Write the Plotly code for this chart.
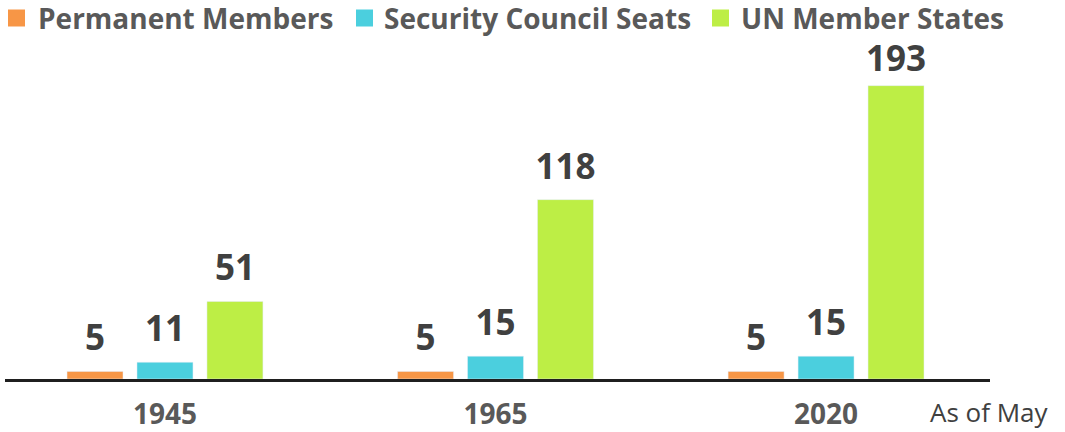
import plotly.graph_objects as go

years = ["1945", "1965", "2020"]
permanent = [5, 5, 5]
seats = [11, 15, 15]
states = [51, 118, 193]
series_names = ["Permanent Members", "Security Council Seats", "UN Member States"]
colors = ["#F79646", "#4BCFDE", "#BDEE45"]

# layout geometry (page body margin removed via post_script, so div px = screen px)
W, H = 1065, 432
L, R, T, B = 5, 75, 75, 53
PW, PH = W - L - R, H - T - B
YMAX = 200
GAP, GROUPGAP = 0.365, 0.2


def px_x(x):
    return (x - L) / PW


def px_y(y):
    return (H - B - y) / PH


fig = go.Figure()
series_vals = [permanent, seats, states]
for name, vals, col in zip(series_names, series_vals, colors):
    fig.add_trace(go.Bar(
        x=years, y=vals, name=name, marker_color=col, showlegend=False,
        hoverinfo="x+y+name",
    ))
# value labels, grouped like the bars (tallest label sits a little closer to its bar,
# as in the reference where it is squeezed under the legend)
for name, vals in zip(series_names, series_vals):
    pad = [8 if v == max(states) else 18 for v in vals]
    fig.add_trace(go.Scatter(
        x=years, y=vals, name=name, mode="markers+text", showlegend=False,
        marker=dict(size=pad, color="rgba(0,0,0,0)", opacity=0,
                    line=dict(width=0, color="rgba(0,0,0,0)")),
        text=[str(v) for v in vals], textposition="top center",
        textfont=dict(family="Open Sans", size=35, color="#404040", weight="bold"),
        cliponaxis=False, hoverinfo="skip",
    ))

# legend drawn as squares + text (single row, as in the reference)
legend_sq_x = [8, 356, 712]
legend_tx_x = [37, 383, 740]
for name, col, sx, tx in zip(series_names, colors, legend_sq_x, legend_tx_x):
    fig.add_shape(type="rect", xref="paper", yref="paper",
                  x0=px_x(sx), x1=px_x(sx + 17), y0=px_y(9.5), y1=px_y(26.5),
                  fillcolor=col, line_width=0)
    fig.add_annotation(text=name, xref="paper", yref="paper",
                       x=px_x(tx), y=px_y(18), xanchor="left", yanchor="middle",
                       showarrow=False, borderpad=0,
                       font=dict(family="Open Sans", size=28, color="#595959", weight="bold"))

fig.update_layout(
    width=W, height=H,
    margin=dict(l=L, r=R, t=T, b=B),
    plot_bgcolor="white", paper_bgcolor="white",
    barmode="group", bargap=GAP, bargroupgap=GROUPGAP,
    scattermode="group", scattergap=GAP,
    showlegend=False,
    xaxis=dict(type="category", range=[-0.484, 2.496], showline=True, linecolor="#1f1f1f",
               linewidth=3, ticks="", showgrid=False, automargin=False,
               ticklabelstandoff=8,
               tickfont=dict(family="Open Sans", size=28, color="#595959", weight="bold")),
    yaxis=dict(range=[0, YMAX], visible=False, showgrid=False, zeroline=False),
)
fig.add_annotation(text="As of May", xref="paper", yref="paper", x=px_x(929), y=0, yshift=-33,
                   xanchor="left", yanchor="middle", showarrow=False, borderpad=0,
                   font=dict(family="Open Sans", size=26, color="#404040"))
fig.write_html("out.html", config={"displayModeBar": False},
               post_script="document.body.style.margin='0';")
